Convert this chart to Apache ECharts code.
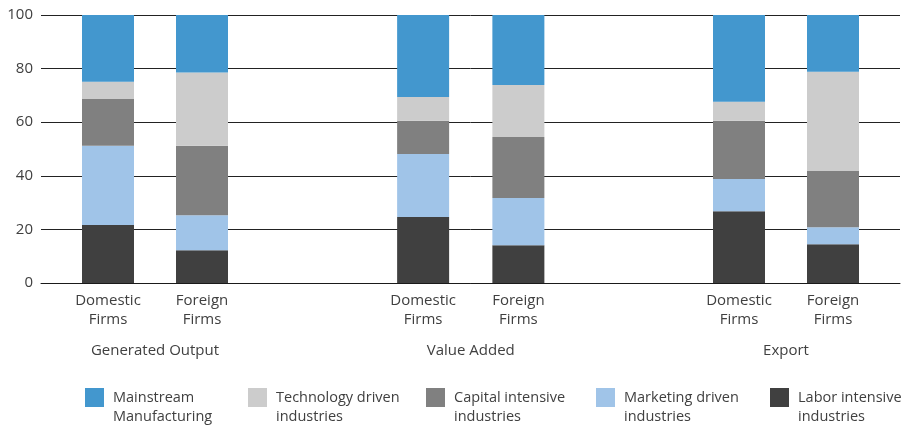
<!DOCTYPE html>
<html>
<head>
<meta charset="utf-8">
<script src="https://cdn.jsdelivr.net/npm/echarts@6/dist/echarts.min.js"></script>
<style>
html,body{margin:0;padding:0;background:#fff;}
#chart{width:905px;height:425px;}
</style>
</head>
<body>
<div id="chart"></div>
<script>
// Order in each series: [Generated Output Domestic, Generated Output Foreign, Value Added Domestic, Value Added Foreign, Export Domestic, Export Foreign]
const groups = ['Generated Output', 'Value Added', 'Export'];
const firms = ['Domestic\nFirms', 'Foreign\nFirms'];
const yTicks = [0, 20, 40, 60, 80, 100];

const labor      = [21.6, 12.2, 24.6, 14.1, 26.8, 14.5];
const marketing  = [29.6, 13.1, 23.5, 17.6, 12.0, 6.3];
const capital    = [17.5, 25.9, 12.4, 22.8, 21.7, 21.0];
const technology = [6.4, 27.3, 8.9, 19.4, 7.1, 37.0];
const mainstream = [24.9, 21.5, 30.6, 26.1, 32.4, 21.2];

const seriesDefs = [
  { name: 'Labor intensive\nindustries', data: labor, color: '#404040' },
  { name: 'Marketing driven\nindustries', data: marketing, color: '#A0C4E8' },
  { name: 'Capital intensive\nindustries', data: capital, color: '#808080' },
  { name: 'Technology driven\nindustries', data: technology, color: '#CCCCCC' },
  { name: 'Mainstream\nManufacturing', data: mainstream, color: '#4397CE' }
];
const legendOrder = [4, 3, 2, 1, 0];
const legendLeft = [85, 248, 426, 596, 770];

const FONT = 'Open Sans';
const FS = 15;
const TXT = '#404040';
const TOP = 15, BOTTOM = 142;
const groupGrids = [
  { left: 61, width: 188 },
  { left: 375.5, width: 190.5 },
  { left: 692, width: 188 }
];

const grid = [{ left: 41, right: 5, top: TOP, bottom: BOTTOM }];
groupGrids.forEach(g => grid.push({ left: g.left, width: g.width, top: TOP, bottom: BOTTOM }));

const xAxis = [{
  type: 'category', gridIndex: 0, data: [''],
  axisLine: { show: true, lineStyle: { color: '#1a1a1a', width: 1 } },
  axisTick: { show: false }, axisLabel: { show: false }
}];
const yAxis = [{
  type: 'value', gridIndex: 0, min: 0, max: 100, interval: 20,
  axisLine: { show: false }, axisTick: { show: false },
  axisLabel: { color: TXT, fontSize: FS, fontFamily: FONT, margin: 8 },
  splitLine: { show: true, lineStyle: { color: '#222', width: 1 } }
}];
groups.forEach((gname, i) => {
  xAxis.push({
    type: 'category', gridIndex: i + 1, data: firms,
    axisLine: { show: false }, axisTick: { show: false },
    axisLabel: { color: TXT, fontSize: FS, fontFamily: FONT, lineHeight: 19, margin: 8 },
    name: gname, nameLocation: 'middle', nameGap: 60,
    nameTextStyle: { color: TXT, fontSize: FS, fontFamily: FONT }
  });
  yAxis.push({
    type: 'value', gridIndex: i + 1, min: 0, max: 100, show: false,
    splitLine: { show: false }
  });
});

const series = [];
groups.forEach((gname, i) => {
  seriesDefs.forEach(s => {
    series.push({
      name: s.name, type: 'bar', stack: 'g' + i,
      xAxisIndex: i + 1, yAxisIndex: i + 1,
      barWidth: 52,
      data: s.data.slice(2 * i, 2 * i + 2),
      itemStyle: { color: s.color },
      emphasis: { disabled: true }
    });
  });
});

const legend = legendOrder.map((si, k) => ({
  data: [seriesDefs[si].name],
  left: legendLeft[k], top: 369, padding: 0,
  itemWidth: 19, itemHeight: 19, itemGap: 0,
  icon: 'rect', selectedMode: false,
  formatter: n => ' \n' + n,
  textStyle: { color: TXT, fontSize: 14.5, fontFamily: FONT, lineHeight: 19, padding: [0, 0, 0, 4] }
}));

const chart = echarts.init(document.getElementById('chart'), null, { renderer: 'canvas' });
chart.setOption({
  animation: false,
  color: seriesDefs.map(s => s.color),
  grid, xAxis, yAxis, series, legend
});
</script>
</body>
</html>
